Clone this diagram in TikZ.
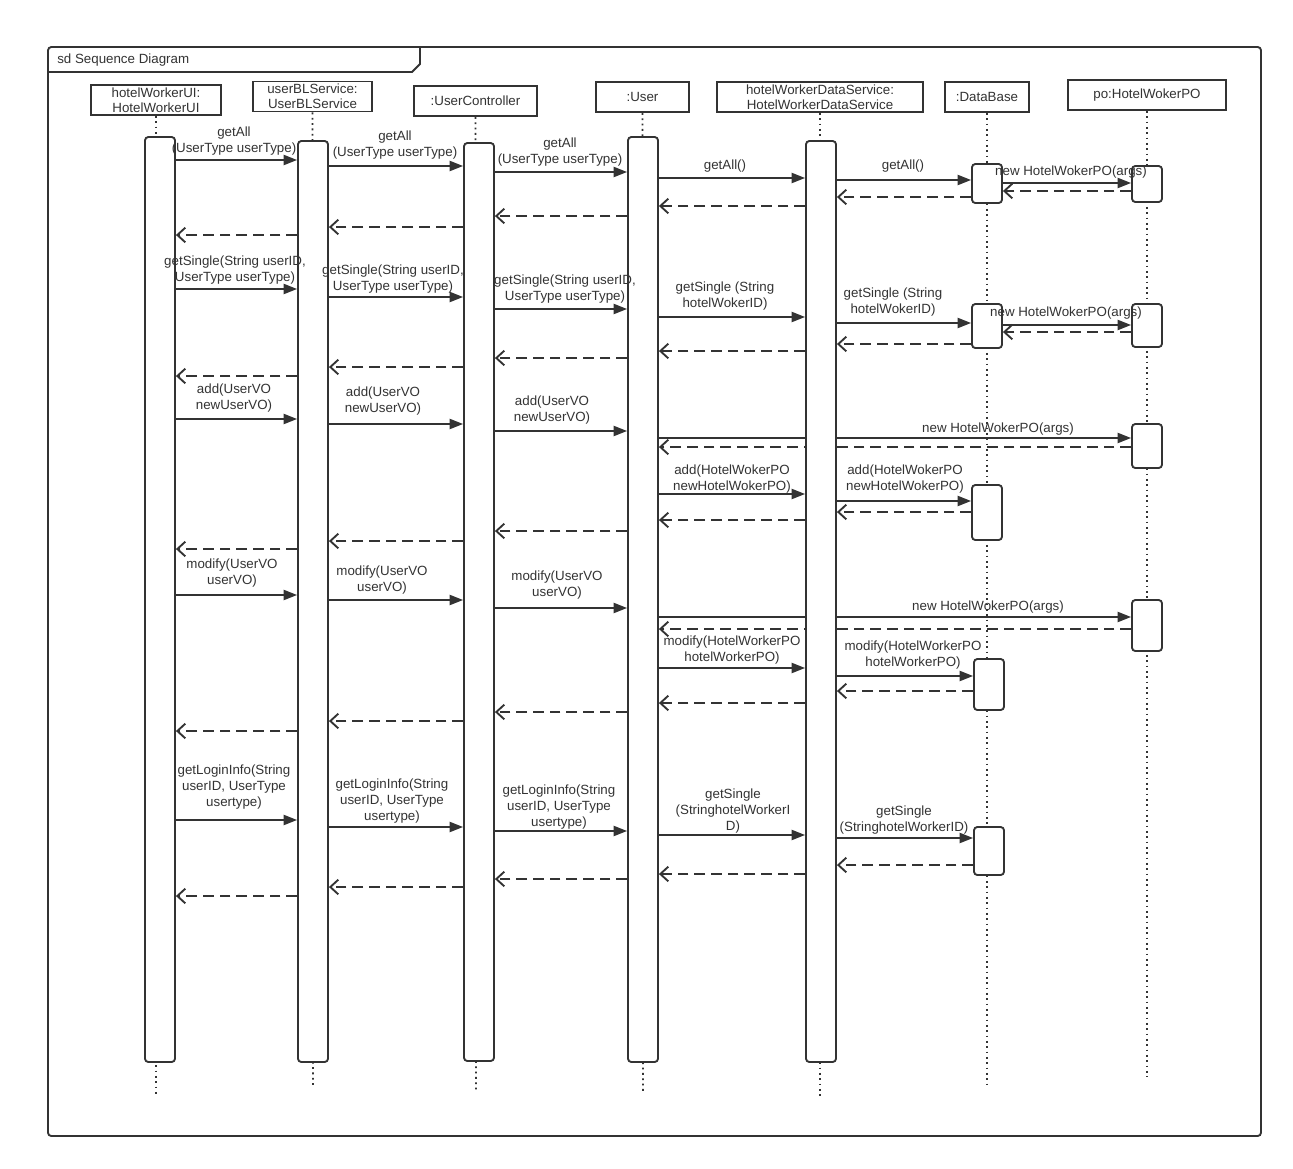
\documentclass[tikz,border=0pt]{standalone}
\usepackage{fontspec}
\setmainfont{Liberation Sans}
\usetikzlibrary{arrows.meta}
\definecolor{ink}{HTML}{333333}
\pgfdeclarelayer{bg}
\pgfdeclarelayer{paper}
\pgfsetlayers{paper,bg,main}
\newcommand\callr[3]{\draw[call] (#1.east |- 0,#3) -- (#2.west |- 0,#3);}
\newcommand\retl[3]{\draw[ret] (#1.west |- 0,#3) -- (#2.east |- 0,#3);}
\newcommand\actbox[4]{\node[act, minimum height={(#4-#3)*0.75pt}] (#1) at (#2,{(#3+#4)/2}) {};}
\newcommand\headbox[5]{\node[head, minimum width={#4*0.75pt}, minimum height=22.5pt] (#1) at (#2,#3) {#5};}
\begin{document}
\begin{tikzpicture}[x=0.75pt,y=-0.75pt,
  font=\fontsize{10}{12}\selectfont,
  head/.style={draw=ink, line width=1.4pt, fill=white, inner sep=0pt, align=center, text=ink, font=\fontsize{10}{11}\selectfont},
  act/.style={draw=ink, line width=1.4pt, fill=white, rounded corners=2.5pt, minimum width=22.5pt, inner sep=0pt},
  life/.style={draw=ink, line width=1.4pt, dash pattern=on 1.4pt off 2.6pt},
  call/.style={draw=ink, line width=1.4pt, -{Triangle[length=10pt,width=7.5pt]}},
  ret/.style={draw=ink, line width=1.4pt, dash pattern=on 8pt off 4.5pt, -{Straight Barb[length=6pt,width=11pt]}},
  lbl/.style={text=ink, align=center, inner sep=0pt}]
\begin{pgfonlayer}{paper}
\fill[white] (0,0) rectangle (1293,1168);
\end{pgfonlayer}
\useasboundingbox (0,0) rectangle (1293,1168);
% frame
\draw[draw=ink, line width=1.4pt, rounded corners=2.5pt] (48,47) rectangle (1261,1136);
\draw[draw=ink, line width=1.4pt] (48,72) -- (412,72) -- (420,64) -- (420,47);
\node[lbl, anchor=west] (title) at (57,60) {sd Sequence Diagram};
% heads
\headbox{hUI}{156}{100}{130}{hotelWorkerUI:\\HotelWorkerUI}
\headbox{hBL}{312.5}{96.5}{119}{userBLService:\\UserBLService}
\headbox{hUC}{475.5}{101}{123}{:UserController}
\headbox{hUS}{642.5}{97}{93}{:User}
\headbox{hDS}{820}{97}{206}{hotelWorkerDataService:\\HotelWorkerDataService}
\headbox{hDB}{987}{97}{84}{:DataBase}
\headbox{hPO}{1147}{95}{158}{po:HotelWokerPO}
% lifelines
\coordinate (eUI) at (156,1097);
\coordinate (eBL) at (313,1087);
\coordinate (eUC) at (476,1090);
\coordinate (eUS) at (643,1093);
\coordinate (eDS) at (820,1097);
\coordinate (eDB) at (987,1087);
\coordinate (ePO) at (1147,1077);
\draw[life] (hUI.south) -- (eUI);
\draw[life] (hBL.south) -- (eBL);
\draw[life] (hUC.south) -- (eUC);
\draw[life] (hUS.south) -- (eUS);
\draw[life] (hDS.south) -- (eDS);
\draw[life] (hDB.south) -- (eDB);
\draw[life] (hPO.south) -- (ePO);
% activations
\actbox{aUI}{160}{137}{1062}
\actbox{aBL}{313}{141}{1062}
\actbox{aUC}{479}{143}{1061}
\actbox{aUS}{643}{137}{1062}
\actbox{aDS}{821}{141}{1062}
\actbox{db1}{987}{164}{203}
\actbox{db2}{987}{304}{348}
\actbox{db3}{987}{485}{540}
\actbox{db4}{989}{659}{710}
\actbox{db5}{989}{827}{875}
\actbox{po1}{1147}{166}{202}
\actbox{po2}{1147}{304}{347}
\actbox{po3}{1147}{424}{468}
\actbox{po4}{1147}{600}{651}
% messages crossing the data service activation
\begin{pgfonlayer}{bg}
\callr{aUS}{po3}{438}
\retl{po3}{aUS}{447}
\callr{aUS}{po4}{617}
\retl{po4}{aUS}{629}
\end{pgfonlayer}
% row 1
\callr{aUI}{aBL}{160}
\callr{aBL}{aUC}{166}
\callr{aUC}{aUS}{172}
\callr{aUS}{aDS}{178}
\callr{aDS}{db1}{180}
\callr{db1}{po1}{183}
\retl{po1}{db1}{191}
\retl{db1}{aDS}{197}
\retl{aDS}{aUS}{206}
\retl{aUS}{aUC}{216}
\retl{aUC}{aBL}{227}
\retl{aBL}{aUI}{235}
% row 2
\callr{aUI}{aBL}{289}
\callr{aBL}{aUC}{297}
\callr{aUC}{aUS}{309}
\callr{aUS}{aDS}{317}
\callr{aDS}{db2}{323}
\callr{db2}{po2}{325}
\retl{po2}{db2}{332}
\retl{db2}{aDS}{344}
\retl{aDS}{aUS}{351}
\retl{aUS}{aUC}{358}
\retl{aUC}{aBL}{367}
\retl{aBL}{aUI}{376}
% row 3
\callr{aUI}{aBL}{419}
\callr{aBL}{aUC}{424}
\callr{aUC}{aUS}{431}
\callr{aUS}{aDS}{494}
\callr{aDS}{db3}{501}
\retl{db3}{aDS}{512}
\retl{aDS}{aUS}{520}
\retl{aUS}{aUC}{531}
\retl{aUC}{aBL}{541}
\retl{aBL}{aUI}{549}
% row 4
\callr{aUI}{aBL}{595}
\callr{aBL}{aUC}{600}
\callr{aUC}{aUS}{608}
\callr{aUS}{aDS}{668}
\callr{aDS}{db4}{676}
\retl{db4}{aDS}{691}
\retl{aDS}{aUS}{703}
\retl{aUS}{aUC}{712}
\retl{aUC}{aBL}{721}
\retl{aBL}{aUI}{731}
% row 5
\callr{aUI}{aBL}{820}
\callr{aBL}{aUC}{827}
\callr{aUC}{aUS}{831}
\callr{aUS}{aDS}{835}
\callr{aDS}{db5}{838}
\retl{db5}{aDS}{865}
\retl{aDS}{aUS}{874}
\retl{aUS}{aUC}{879}
\retl{aUC}{aBL}{887}
\retl{aBL}{aUI}{896}
% labels
\node[lbl] (l11) at (234,141) {getAll\\(UserType userType)};
\node[lbl] (l12) at (395,145) {getAll\\(UserType userType)};
\node[lbl] (l13) at (560,152) {getAll\\(UserType userType)};
\node[lbl] (l14) at (725,166) {getAll()};
\node[lbl] (l15) at (903,166) {getAll()};
\node[lbl] (l16) at (1071,172) {new HotelWokerPO(args)};
\node[lbl] (l21) at (235,270) {getSingle(String userID,\\UserType userType)};
\node[lbl] (l22) at (393,279) {getSingle(String userID,\\UserType userType)};
\node[lbl] (l23) at (565,289) {getSingle(String userID,\\UserType userType)};
\node[lbl] (l24) at (725,296) {getSingle (String\\hotelWokerID)};
\node[lbl] (l25) at (893,302) {getSingle (String\\hotelWokerID)};
\node[lbl] (l26) at (1066,313) {new HotelWokerPO(args)};
\node[lbl] (l31) at (234,398) {add(UserVO\\newUserVO)};
\node[lbl] (l32) at (383,401) {add(UserVO\\newUserVO)};
\node[lbl] (l33) at (552,410) {add(UserVO\\newUserVO)};
\node[lbl] (l34) at (998,429) {new HotelWokerPO(args)};
\node[lbl] (l35) at (732,479) {add(HotelWokerPO\\newHotelWokerPO)};
\node[lbl] (l36) at (905,479) {add(HotelWokerPO\\newHotelWokerPO)};
\node[lbl] (l41) at (232,573) {modify(UserVO\\userVO)};
\node[lbl] (l42) at (382,580) {modify(UserVO\\userVO)};
\node[lbl] (l43) at (557,585) {modify(UserVO\\userVO)};
\node[lbl] (l44) at (988,607) {new HotelWokerPO(args)};
\node[lbl] (l45) at (732,650) {modify(HotelWorkerPO\\hotelWorkerPO)};
\node[lbl] (l46) at (913,655) {modify(HotelWorkerPO\\hotelWorkerPO)};
\node[lbl] (l51) at (234,787) {getLoginInfo(String\\userID, UserType\\usertype)};
\node[lbl] (l52) at (392,801) {getLoginInfo(String\\userID, UserType\\usertype)};
\node[lbl] (l53) at (559,807) {getLoginInfo(String\\userID, UserType\\usertype)};
\node[lbl] (l54) at (733,811) {getSingle\\(StringhotelWorkerI\\D)};
\node[lbl] (l55) at (904,820) {getSingle\\(StringhotelWorkerID)};
\end{tikzpicture}
\end{document}
